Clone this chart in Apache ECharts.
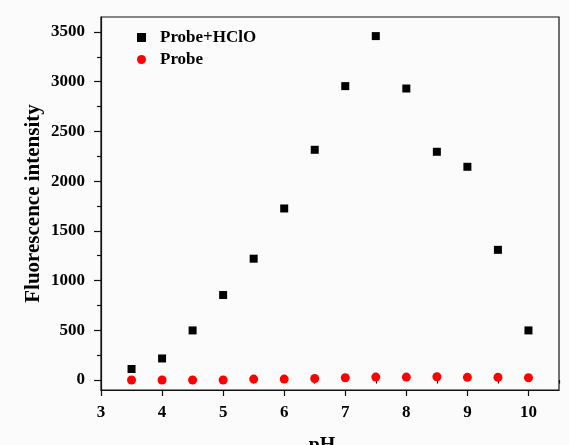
<!DOCTYPE html>
<html>
<head>
<meta charset="utf-8">
<script src="https://cdn.jsdelivr.net/npm/echarts@6/dist/echarts.min.js"></script>
<style>
  html, body { margin: 0; padding: 0; background: #fbfbfb; }
  #chart { width: 569px; height: 445px; }
</style>
</head>
<body>
<div id="chart"></div>
<script>
// ---- data ----
const phValues = [3.5, 4, 4.5, 5, 5.5, 6, 6.5, 7, 7.5, 8, 8.5, 9, 9.5, 10];
const probeHClO = [111, 217, 499, 855, 1220, 1725, 2315, 2955, 3458, 2931, 2295, 2144, 1309, 499];
const probe = [0, 0, 0, 0, 10, 10, 16, 23, 30, 30, 33, 27, 27, 23];
const seriesNames = ['Probe+HClO', 'Probe'];
const xTickValues = [3, 4, 5, 6, 7, 8, 9, 10];
const xMinorTickValues = [3.5, 4.5, 5.5, 6.5, 7.5, 8.5, 9.5, 10.5];
const yTickValues = [0, 500, 1000, 1500, 2000, 2500, 3000, 3500];
const yMinorTickValues = [250, 750, 1250, 1750, 2250, 2750, 3250];
const xTitle = 'pH';
const yTitle = 'Fluorescence intensity';

const font = 'Liberation Serif, Times New Roman, serif';
const pairs = (ys) => phValues.map((x, i) => [x, ys[i]]);
const plain = (v) => String(v);

const chart = echarts.init(document.getElementById('chart'), null, { renderer: 'canvas' });
const baseX = {
  type: 'value', min: 3, max: 10.5,
  splitLine: { show: false }
};
const baseY = {
  type: 'value', min: -100, max: 3650,
  splitLine: { show: false }
};
chart.setOption({
  backgroundColor: '#fbfbfb',
  animation: false,
  grid: {
    left: 101, right: 10, top: 17, bottom: 55,
    show: true, borderColor: '#111', borderWidth: 1.2,
    containLabel: false, outerBoundsMode: 'none'
  },
  legend: {
    orient: 'vertical', left: 132, top: 24,
    itemGap: 5, itemWidth: 9, itemHeight: 9,
    textStyle: { fontFamily: font, fontWeight: 'bold', fontSize: 17, color: '#000', lineHeight: 17, padding: [0, 0, 0, 9] },
    data: [
      { name: seriesNames[0], icon: 'rect', itemStyle: { color: '#000' } },
      { name: seriesNames[1], icon: 'circle', itemStyle: { color: '#ff0000' } }
    ]
  },
  xAxis: [
    Object.assign({}, baseX, {
      name: xTitle, nameLocation: 'middle', nameGap: 46, nameMoveOverlap: false,
      nameTextStyle: { fontFamily: font, fontWeight: 'bold', fontSize: 20, color: '#000', padding: [0, 16, 0, 0] },
      axisLine: { show: true, onZero: false, lineStyle: { color: '#111', width: 1.2 } },
      axisTick: { show: true, inside: false, length: 6, customValues: xTickValues, lineStyle: { color: '#111', width: 1.2 } },
      axisLabel: { show: true, margin: 14, customValues: xTickValues, formatter: plain, fontFamily: font, fontWeight: 'bold', fontSize: 17, color: '#000' }
    }),
    Object.assign({}, baseX, {
      position: 'bottom',
      axisLine: { show: false },
      axisTick: { show: true, inside: false, length: 3.5, customValues: xMinorTickValues, lineStyle: { color: '#111', width: 1.2 } },
      axisLabel: { show: false }
    })
  ],
  yAxis: [
    Object.assign({}, baseY, {
      name: yTitle, nameLocation: 'middle', nameGap: 57, nameRotate: 90, nameMoveOverlap: false,
      nameTextStyle: { fontFamily: font, fontWeight: 'bold', fontSize: 21, color: '#000' },
      axisLine: { show: true, onZero: false, lineStyle: { color: '#111', width: 1.2 } },
      axisTick: { show: true, inside: false, length: 7, customValues: yTickValues, lineStyle: { color: '#111', width: 1.2 } },
      axisLabel: { show: true, margin: 16, customValues: yTickValues, formatter: plain, fontFamily: font, fontWeight: 'bold', fontSize: 17, color: '#000' }
    }),
    Object.assign({}, baseY, {
      position: 'left',
      axisLine: { show: false },
      axisTick: { show: true, inside: false, length: 4, customValues: yMinorTickValues, lineStyle: { color: '#111', width: 1.2 } },
      axisLabel: { show: false }
    })
  ],
  series: [
    {
      name: seriesNames[0], type: 'scatter', xAxisIndex: 0, yAxisIndex: 0,
      symbol: 'rect', symbolSize: 8,
      itemStyle: { color: '#000', opacity: 1 },
      data: pairs(probeHClO)
    },
    {
      name: seriesNames[1], type: 'scatter', xAxisIndex: 0, yAxisIndex: 0,
      symbol: 'circle', symbolSize: 9,
      itemStyle: { color: '#ff0000', opacity: 1 },
      data: pairs(probe)
    }
  ]
});
</script>
</body>
</html>
